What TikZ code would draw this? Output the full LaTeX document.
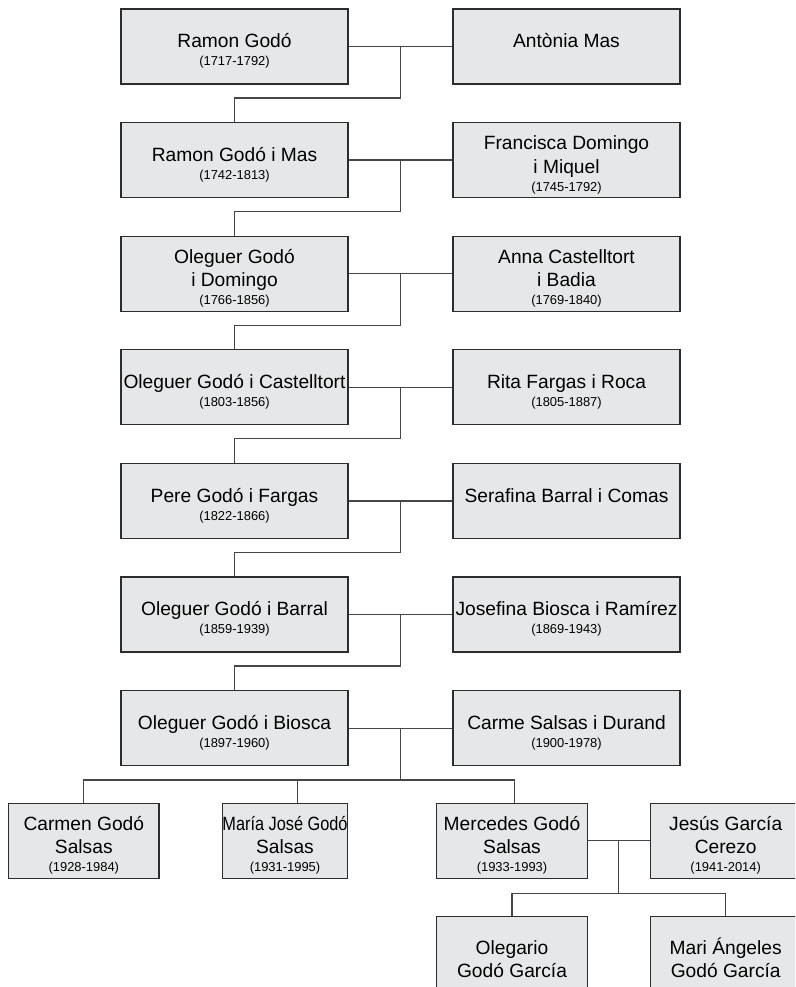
\documentclass[tikz,border=0pt]{standalone}
\usepackage{fontspec}
\setmainfont{Liberation Sans}
\usetikzlibrary{calc}

\definecolor{boxfill}{RGB}{230,231,232}
\definecolor{boxline}{RGB}{45,45,45}
\definecolor{wire}{RGB}{70,70,70}

\newcommand{\toprule}{\rule{0pt}{17.7pt}}
\newcommand{\who}[2]{\toprule#1\\[-4pt]{\fontsize{9.7}{12}\selectfont#2}}

\tikzset{
  person/.style={draw=boxline, line width=1pt, fill=boxfill, align=center,
    minimum width=170.25pt, minimum height=56.25pt, inner sep=0pt,
    font=\fontsize{14.4}{17.5}\selectfont},
  kid/.style={person, minimum width=113pt},
  link/.style={draw=wire, line width=0.9pt}
}

\begin{document}
\begin{tikzpicture}[x=0.75pt, y=-0.75pt]
                \useasboundingbox (0, 0) rectangle (795, 987);
                \clip (0, 0) rectangle (795, 987);

                \node [person] (ramon) at (234.5, 46.5) {\who{Ramon Godó}{(1717-1792)}};
                \node [person] (antonia) at (566.5, 46.5) {\who{Antònia Mas}{\phantom{(1)}}};
                \node [person] (ramonmas) at (234.5, 160.1) {\who{Ramon Godó i Mas}{(1742-1813)}};
                \node [person] (francisca) at (566.5, 160.1) {\who{Francisca Domingo\\i Miquel}{(1745-1792)}};
                \node [person] (oleguer1) at (234.5, 273.7) {\who{Oleguer Godó\\i Domingo}{(1766-1856)}};
                \node [person] (anna) at (566.5, 273.7) {\who{Anna Castelltort\\i Badia}{(1769-1840)}};
                \node [person] (oleguer2) at (234.5, 387.3) {\who{Oleguer Godó i Castelltort}{(1803-1856)}};
                \node [person] (rita) at (566.5, 387.3) {\who{Rita Fargas i Roca}{(1805-1887)}};
                \node [person] (pere) at (234.5, 500.9) {\who{Pere Godó i Fargas}{(1822-1866)}};
                \node [person] (serafina) at (566.5, 500.9) {\who{Serafina Barral i Comas}{\phantom{(1)}}};
                \node [person] (oleguer3) at (234.5, 614.5) {\who{Oleguer Godó i Barral}{(1859-1939)}};
                \node [person] (josefina) at (566.5, 614.5) {\who{Josefina Biosca i Ramírez}{(1869-1943)}};
                \node [person] (oleguer4) at (234.5, 728.1) {\who{Oleguer Godó i Biosca}{(1897-1960)}};
                \node [person] (carme) at (566.5, 728.1) {\who{Carme Salsas i Durand}{(1900-1978)}};

                \node [kid] (carmen) at (83.8, 840.8) {\who{Carmen Godó\\Salsas}{(1928-1984)}};
                \node [kid, minimum width=94pt] (mariajose) at (285, 840.8) {\who{\scalebox{0.85}[1]{María José Godó}\\Salsas}{(1931-1995)}};
                \node [kid] (mercedes) at (512, 840.8) {\who{Mercedes Godó\\Salsas}{(1933-1993)}};
                \node [kid] (jesus) at (725.7, 840.8) {\who{Jesús García\\Cerezo}{(1941-2014)}};
                \node [kid] (olegario) at (512, 954) {\toprule Olegario\\Godó García};
                \node [kid] (mariangeles) at (725.7, 954) {\toprule Mari Ángeles\\Godó García};

                \coordinate (c1) at ($(ramon.east)!0.5!(antonia.west)$);
                \coordinate (c2) at ($(ramonmas.east)!0.5!(francisca.west)$);
                \coordinate (c3) at ($(oleguer1.east)!0.5!(anna.west)$);
                \coordinate (c4) at ($(oleguer2.east)!0.5!(rita.west)$);
                \coordinate (c5) at ($(pere.east)!0.5!(serafina.west)$);
                \coordinate (c6) at ($(oleguer3.east)!0.5!(josefina.west)$);
                \coordinate (c7) at ($(oleguer4.east)!0.5!(carme.west)$);
                \coordinate (c8) at ($(mercedes.east)!0.5!(jesus.west)$);
                \coordinate (kids) at (0, 780);
                \coordinate (grandkids) at (0, 893.3);

                \draw [link] (ramon) -- (antonia);
                \draw [link] (c1) |- ($(ramonmas.north)+(0, -24)$) -- (ramonmas.north);
                \draw [link] (ramonmas) -- (francisca);
                \draw [link] (c2) |- ($(oleguer1.north)+(0, -24)$) -- (oleguer1.north);
                \draw [link] (oleguer1) -- (anna);
                \draw [link] (c3) |- ($(oleguer2.north)+(0, -24)$) -- (oleguer2.north);
                \draw [link] (oleguer2) -- (rita);
                \draw [link] (c4) |- ($(pere.north)+(0, -24)$) -- (pere.north);
                \draw [link] (pere) -- (serafina);
                \draw [link] (c5) |- ($(oleguer3.north)+(0, -24)$) -- (oleguer3.north);
                \draw [link] (oleguer3) -- (josefina);
                \draw [link] (c6) |- ($(oleguer4.north)+(0, -24)$) -- (oleguer4.north);
                \draw [link] (oleguer4) -- (carme);
                \draw [link] (c7) -- (c7 |- kids);
                \draw [link] (carmen.north) -- (carmen.north |- kids) -- ($(mercedes.north |- kids)+(2.3, 0)$) -- ($(mercedes.north)+(2.3, 0)$);
                \draw [link] ($(mariajose.north)+(12.7, 0)$) -- ($(mariajose.north |- kids)+(12.7, 0)$);
                \draw [link] (mercedes) -- (jesus);
                \draw [link] (c8) -- (c8 |- grandkids);
                \draw [link] (olegario.north) -- (olegario.north |- grandkids) -- (mariangeles.north |- grandkids) -- (mariangeles.north);
\end{tikzpicture}
\end{document}
